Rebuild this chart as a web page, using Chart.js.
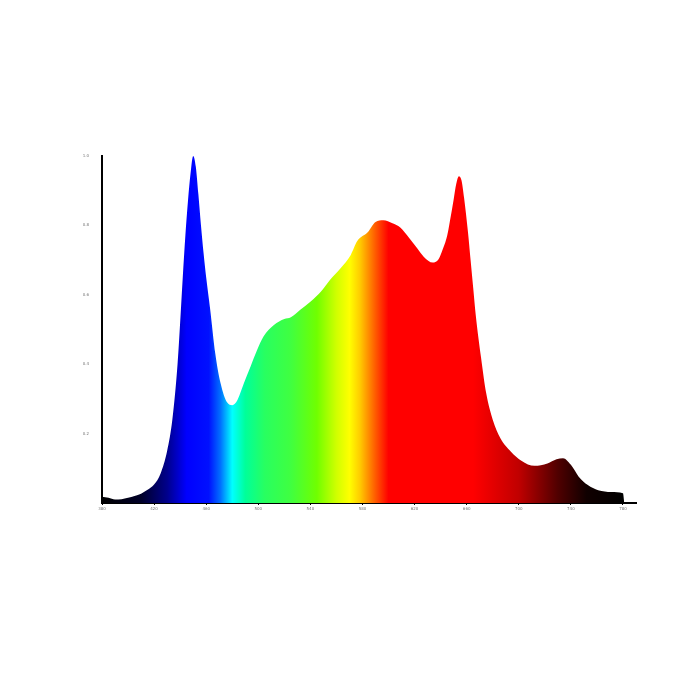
<!DOCTYPE html>
<html>
<head>
<meta charset="utf-8">
<script src="https://cdn.jsdelivr.net/npm/chart.js@4/dist/chart.umd.min.js"></script>
<style>
  html, body { margin: 0; padding: 0; background: #fff; }
  #wrap { width: 700px; height: 700px; }
</style>
</head>
<body>
<div id="wrap"><canvas id="spectrumChart" width="700" height="700"></canvas></div>
<script>
// wavelength (nm) and relative intensity
const wavelengths = [380, 385, 390, 395, 400, 405, 410, 415, 420, 425, 430, 434, 438, 440, 442, 444, 446, 448, 450, 452,
    454, 456, 458, 460, 463, 467, 471, 476, 480, 484, 489, 494, 499, 504, 512, 520, 525, 532, 540, 548,
    555, 563, 571, 576, 584, 590, 596, 603, 609, 616, 622, 627, 634, 638, 641, 645, 647, 650, 652, 654,
    656, 658, 661, 663, 665, 667, 671, 675, 680, 686, 694, 702, 712, 722, 729, 734, 740, 746, 753, 761,
    771, 780, 781];
const intensity = [0.018, 0.015, 0.010, 0.011, 0.015, 0.020, 0.027, 0.038, 0.053, 0.085, 0.15, 0.24, 0.40, 0.52, 0.65, 0.77, 0.87, 0.95, 1.0, 0.97,
    0.89, 0.80, 0.72, 0.65, 0.56, 0.43, 0.346, 0.29, 0.282, 0.297, 0.346, 0.393, 0.44, 0.48, 0.513, 0.53, 0.535, 0.556, 0.58, 0.609,
    0.643, 0.676, 0.715, 0.755, 0.78, 0.81, 0.815, 0.806, 0.794, 0.763, 0.734, 0.71, 0.693, 0.70, 0.725, 0.77, 0.81, 0.875, 0.92, 0.942,
    0.93, 0.88, 0.78, 0.70, 0.62, 0.54, 0.42, 0.316, 0.24, 0.186, 0.148, 0.122, 0.107, 0.114, 0.126, 0.129, 0.11, 0.076, 0.052, 0.037,
    0.032, 0.028, 0];

const xTicks = [380, 420, 460, 500, 540, 580, 620, 660, 700, 740, 780];
const yTicks = [0.2, 0.4, 0.6, 0.8, 1.0];

// สีตามความยาวคลื่น (style only)
const spectrumStops = [
    [380, '#000000'], [410, '#000028'], [430, '#00008c'], [445, '#0000ff'], [462, '#0010ff'],
    [471, '#0070ff'], [480, '#00ffff'], [490, '#00ff9a'], [505, '#28ff60'], [525, '#40ff40'],
    [545, '#70ff00'], [560, '#d0ff00'], [570, '#ffff00'], [578, '#ffcc00'], [590, '#ff5a00'],
    [600, '#ff0000'], [665, '#ff0000'], [700, '#c00000'], [730, '#500000'], [752, '#100000'], [780, '#000000']
];

const points = wavelengths.map((w, i) => ({ x: w, y: intensity[i] }));

function spectrumFill(context) {
    const chart = context.chart;
    const area = chart.chartArea;
    if (!area) return '#ff0000';
    const xs = chart.scales.x;
    const g = chart.ctx.createLinearGradient(area.left, 0, area.right, 0);
    spectrumStops.forEach(s => {
        let p = (xs.getPixelForValue(s[0]) - area.left) / (area.right - area.left);
        p = Math.min(1, Math.max(0, p));
        g.addColorStop(p, s[1]);
    });
    return g;
}

new Chart(document.getElementById('spectrumChart'), {
    type: 'line',
    data: {
        datasets: [{
            data: points,
            fill: 'origin',
            backgroundColor: spectrumFill,
            borderWidth: 0,
            pointRadius: 0,
            cubicInterpolationMode: 'monotone'
        }]
    },
    options: {
        responsive: false,
        animation: false,
        layout: { padding: { left: 0, top: 156, right: 64, bottom: 180 } },
        plugins: { legend: { display: false }, tooltip: { enabled: false } },
        scales: {
            x: {
                type: 'linear',
                min: 380,
                max: 790,
                afterBuildTicks: s => { s.ticks = xTicks.map(v => ({ value: v })); },
                afterFit: s => { s.height = 17; },
                grid: { display: true, drawOnChartArea: false, drawTicks: true, tickLength: 2, color: '#000' },
                border: { display: true, color: '#000', width: 2 },
                ticks: { color: '#777', font: { size: 4, family: 'DejaVu Sans' }, padding: 2, maxRotation: 0, autoSkip: false }
            },
            y: {
                min: 0,
                max: 1.0,
                afterBuildTicks: s => { s.ticks = yTicks.map(v => ({ value: v })); },
                afterFit: s => { s.width = 102; },
                grid: { display: false },
                border: { display: true, color: '#000', width: 2 },
                ticks: { color: '#777', font: { size: 4, family: 'DejaVu Sans' }, padding: 5, callback: v => v.toFixed(1) }
            }
        }
    }
});
</script>
</body>
</html>
